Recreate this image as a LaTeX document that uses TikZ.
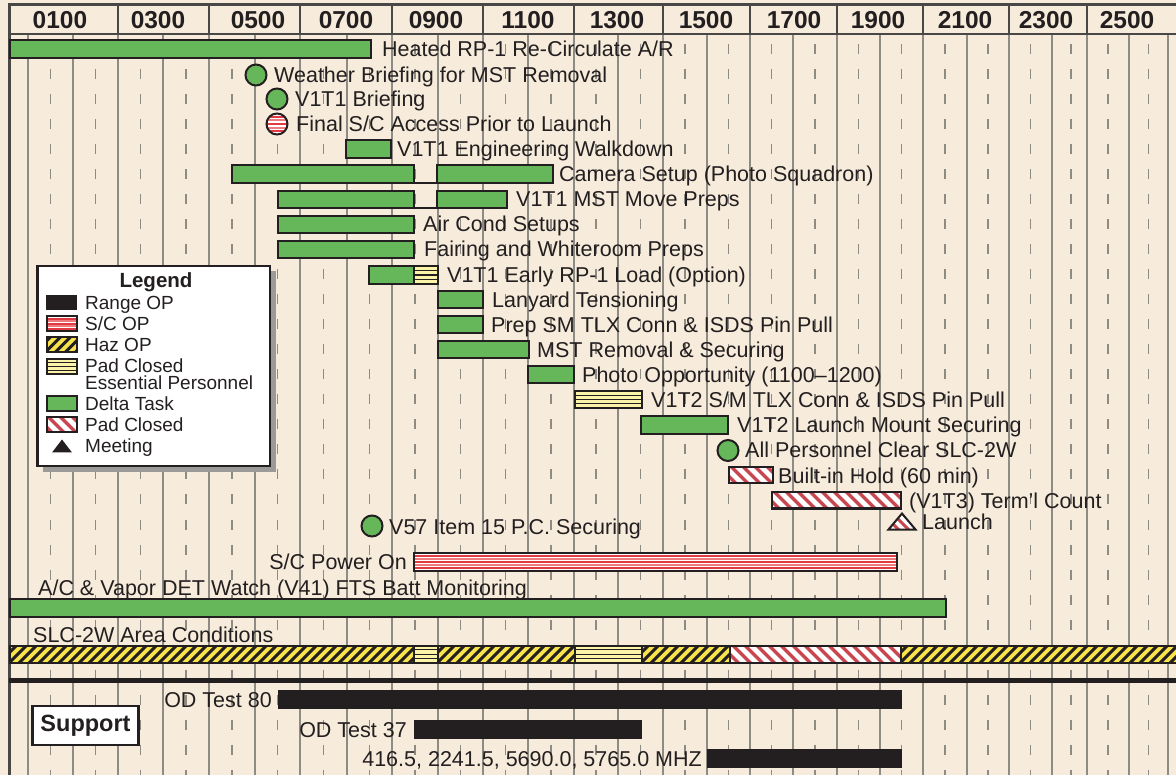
\documentclass[tikz,border=0pt]{standalone}
\usepackage{fontspec}
\setmainfont{Liberation Sans}
\definecolor{bgc}{HTML}{F7ECDB}
\definecolor{ink}{HTML}{231F20}
\definecolor{dgreen}{HTML}{66B65A}
\definecolor{hazy}{HTML}{F8E34B}
\definecolor{pey}{HTML}{FBF3A8}
\definecolor{pcred}{HTML}{C8464F}
\definecolor{scr}{HTML}{E23A41}
\definecolor{scp}{HTML}{EE7A7D}
\definecolor{gridc}{HTML}{8E8A84}
\definecolor{hdrc}{HTML}{4A4747}
\definecolor{shadc}{HTML}{9C9A98}
\newcommand\gbar[4]{\draw[bar,fill=dgreen] (#1,#2) rectangle (#3,#4);}
\newcommand\rbar[4]{\fill[ink] (#1,#2) rectangle (#3,#4);}
\newcommand\hazbar[4]{%
  \fill[hazy] (#1,#2) rectangle (#3,#4);
  \begin{scope}\clip (#1,#2) rectangle (#3,#4);
  \pgfmathtruncatemacro\xsa{#1-22}\pgfmathtruncatemacro\xsb{#1-12}%
  \foreach \s in {\xsa,\xsb,...,#3} \draw[ink,line width=3.1pt] (\s,#4+1) -- ++(22,-22);
  \end{scope}
  \draw[bar] (#1,#2) rectangle (#3,#4);}
\newcommand\pcbar[4]{%
  \fill[white] (#1,#2) rectangle (#3,#4);
  \begin{scope}\clip (#1,#2) rectangle (#3,#4);
  \pgfmathtruncatemacro\xsa{#1-22}\pgfmathtruncatemacro\xsb{#1-10}%
  \foreach \s in {\xsa,\xsb,...,#3} \draw[pcred,line width=3.3pt] (\s,#2-1) -- ++(22,22);
  \end{scope}
  \draw[bar] (#1,#2) rectangle (#3,#4);}
\newcommand\pebar[4]{%
  \fill[pey] (#1,#2) rectangle (#3,#4);
  \foreach \k in {1,2,3} \draw[ink,line width=1.1pt] (#1,{#2+(#4-#2)*\k/4}) -- (#3,{#2+(#4-#2)*\k/4});
  \draw[bar] (#1,#2) rectangle (#3,#4);}
\newcommand\scstripes[4]{%
  \foreach \k/\c in {1/scr,2/scp,3/scr,4/scp,5/scr} \draw[\c,line width=2pt] (#1,{#2+(#4-#2)*\k/6}) -- (#3,{#2+(#4-#2)*\k/6});}
\newcommand\scbar[4]{%
  \fill[white] (#1,#2) rectangle (#3,#4);
  \scstripes{#1}{#2}{#3}{#4}
  \draw[bar] (#1,#2) rectangle (#3,#4);}
\begin{document}
\begin{tikzpicture}[x=1pt,y=-1pt,
  bar/.style={draw=ink,line width=2pt},
  gridl/.style={draw=gridc,line width=1.3pt},
  hdr/.style={draw=hdrc,line width=2.2pt},
  lbl/.style={anchor=base west,inner sep=0pt,text=ink,font=\fontsize{21.5}{24}\selectfont},
  lblr/.style={lbl,anchor=base east},
  leg/.style={anchor=base west,inner sep=0pt,text=ink,font=\fontsize{19}{21}\selectfont},
  hlab/.style={inner sep=0pt,text=ink,font=\fontsize{24.5}{28}\selectfont\bfseries},
  dot/.style={bar,fill=dgreen}]
\useasboundingbox (0,0) rectangle (1176,775);
\fill[bgc] (0,0) rectangle (1176,775);
% grid
\def\hourlines{28,73,118,163,209,255,300,347,392,438,483,528,574,618,663,707,750,793,837,880,923,967,1009,1052,1087,1129,1168}
\def\halflines{50.5,95.5,140.5,186,232,277.5,323.5,369.5,415,460.5,505.5,551,596,640.5,685,728.5,771.5,815,858.5,901.5,945,988,1030.5,1071,1108,1148.5}
\foreach \x in \hourlines \draw[gridl] (\x,35) -- (\x,775);
\foreach \x in \halflines \draw[gridl,dash pattern=on 10pt off 15pt] (\x,44.5) -- (\x,775);
% header
\draw[hdr] (9,4.5) -- (1176,4.5);
\draw[hdr] (9,34) -- (1176,34);
\foreach \x in {118,209,300,392,483,574,663,750,837,923,1009,1087} \draw[hdr] (\x,4.5) -- (\x,34);
\draw[hdr,line width=2.6pt] (9.5,3.5) -- (9.5,775);
\foreach \x/\t in {60/0100,158/0300,258/0500,346/0700,436/0900,528/1100,617/1300,706/1500,794/1700,878/1900,965/2100,1046/2300,1127/2500}
  \node[hlab] (h\t) at (\x,20) {\t};
% rows
\gbar{10}{40}{371}{58}
\node[lbl] (r1) at (382,56.5) {Heated RP-1 Re-Circulate A/R};
\draw[dot] (256,75) circle[radius=10.5];
\node[lbl] (r2) at (274,82.5) {Weather Briefing for MST Removal};
\draw[dot] (277,99) circle[radius=10.5];
\node[lbl] (r3) at (295,106.5) {V1T1 Briefing};
\fill[white] (277,124) circle[radius=10.5];
\begin{scope}\clip (277,124) circle[radius=10.5]; \scstripes{265}{113}{289}{135}\end{scope}
\draw[bar] (277,124) circle[radius=10.5];
\node[lbl] (r4) at (296,131.5) {Final S/C Access Prior to Launch};
\gbar{346}{140}{391}{158}
\node[lbl] (r5) at (397,156.5) {V1T1 Engineering Walkdown};
\draw[ink,line width=1.4pt] (414,183) -- (437,183);
\gbar{232}{165}{414}{183}
\gbar{437}{165}{553}{183}
\node[lbl] (r6) at (559,181.5) {Camera Setup (Photo Squadron)};
\draw[ink,line width=1.4pt] (414,208) -- (437,208);
\gbar{278}{191}{414}{208}
\gbar{437}{191}{507}{208}
\node[lbl] (r7) at (516,207) {V1T1 MST Move Preps};
\gbar{278}{216}{414}{233}
\node[lbl] (r8) at (423,232) {Air Cond Setups};
\gbar{278}{241}{414}{258}
\node[lbl] (r9) at (424,257) {Fairing and Whiteroom Preps};
\gbar{369}{266}{414}{284}
\pebar{414}{266}{438}{284}
\node[lbl] (r10) at (447,282.5) {V1T1 Early RP-1 Load (Option)};
\gbar{438}{291}{483}{308}
\node[lbl] (r11) at (492,307.5) {Lanyard Tensioning};
\gbar{438}{316}{483}{333}
\node[lbl] (r12) at (491,332.5) {Prep SM TLX Conn \& ISDS Pin Pull};
\gbar{438}{341}{529}{358}
\node[lbl] (r13) at (537,357.5) {MST Removal \& Securing};
\gbar{528}{366}{574}{383}
\node[lbl] (r14) at (582,382.5) {Photo Opportunity (1100–1200)};
\pebar{575}{391}{642}{408}
\node[lbl] (r15) at (651,407.5) {V1T2 S/M TLX Conn \& ISDS Pin Pull};
\gbar{641}{416}{728}{434}
\node[lbl] (r16) at (737,432.5) {V1T2 Launch Mount Securing};
\draw[dot] (728,450.5) circle[radius=10.5];
\node[lbl] (r17) at (745,458) {All Personnel Clear SLC-2W};
\pcbar{729}{467.5}{773}{483.5}
\node[lbl] (r18) at (778,483) {Built-in Hold (60 min)};
\pcbar{772}{492.5}{901}{508.5}
\node[lbl] (r19) at (909,508) {(V1T3) Term'l Count};
% launch triangle
\begin{scope}
\clip (902,513.5) -- (888.5,529.5) -- (915.5,529.5) -- cycle;
\fill[white] (886,512) rectangle (918,531);
\foreach \s in {870,880,...,920} \draw[pcred,line width=3pt] (\s,511) -- ++(22,22);
\end{scope}
\draw[bar,line join=miter] (902,513.5) -- (888.5,529.5) -- (915.5,529.5) -- cycle;
\node[lbl] (r20) at (922,529.5) {Launch};
\draw[dot] (372,526) circle[radius=10.5];
\node[lbl] (r21) at (389,534) {V57 Item 15 P.C. Securing};
\scbar{414}{552.5}{897}{570.5}
\node[lblr] (r22) at (407,569) {S/C Power On};
\node[lbl] (r23) at (38,595) {A/C \& Vapor DET Watch (V41) FTS Batt Monitoring};
\gbar{10}{599}{946}{617}
\node[lbl] (r24) at (33,642) {SLC-2W Area Conditions};
\hazbar{10}{645.5}{414}{663}
\pebar{414}{645.5}{438}{663}
\hazbar{438}{645.5}{575}{663}
\pebar{575}{645.5}{642}{663}
\hazbar{642}{645.5}{730}{663}
\pcbar{730}{645.5}{901}{663}
\hazbar{901}{645.5}{1180}{663}
% separator
\draw[ink,line width=4.5pt] (9,680.5) -- (1176,680.5);
% support
\rbar{278}{690}{902}{709}
\node[lblr] (s1) at (272,707) {OD Test 80};
\rbar{414}{720}{642}{739}
\node[lblr] (s2) at (407,737) {OD Test 37};
\rbar{707}{749}{902}{768}
\node[lblr] (s3) at (702,766) {416.5, 2241.5, 5690.0, 5765.0 MHZ};
\node[draw=ink,line width=2.2pt,fill=white,minimum width=106pt,minimum height=39pt,inner sep=0pt,
  font=\fontsize{23.5}{26}\selectfont\bfseries,text=ink] (sup) at (85.5,725.5) {Support};
% legend
\fill[shadc] (43,271) rectangle (276,472);
\draw[draw=ink,line width=2.5pt,fill=white] (37.5,266) rectangle (270,466);
\node[inner sep=0pt,text=ink,font=\fontsize{20.5}{24}\selectfont\bfseries] (lt) at (156,282) {Legend};
\rbar{46}{295}{77}{310.5}
\node[leg] (l1) at (85,309.5) {Range OP};
\scbar{46.5}{316.5}{77}{331.5}
\node[leg] (l2) at (85,330.5) {S/C OP};
\hazbar{46.5}{337.5}{77}{352.5}
\node[leg] (l3) at (85,351.5) {Haz OP};
\pebar{46.5}{359}{77}{374}
\node[leg] (l4) at (85,373) {Pad Closed};
\node[leg] (l4b) at (85,390) {Essential Personnel};
\gbar{46.5}{396.5}{77}{411.5}
\node[leg] (l5) at (85,411) {Delta Task};
\pcbar{46.5}{417.5}{77}{432.5}
\node[leg] (l6) at (85,432) {Pad Closed};
\fill[ink] (62,439.5) -- (52,452.5) -- (72,452.5) -- cycle;
\node[leg] (l7) at (85,453) {Meeting};
\end{tikzpicture}
\end{document}
